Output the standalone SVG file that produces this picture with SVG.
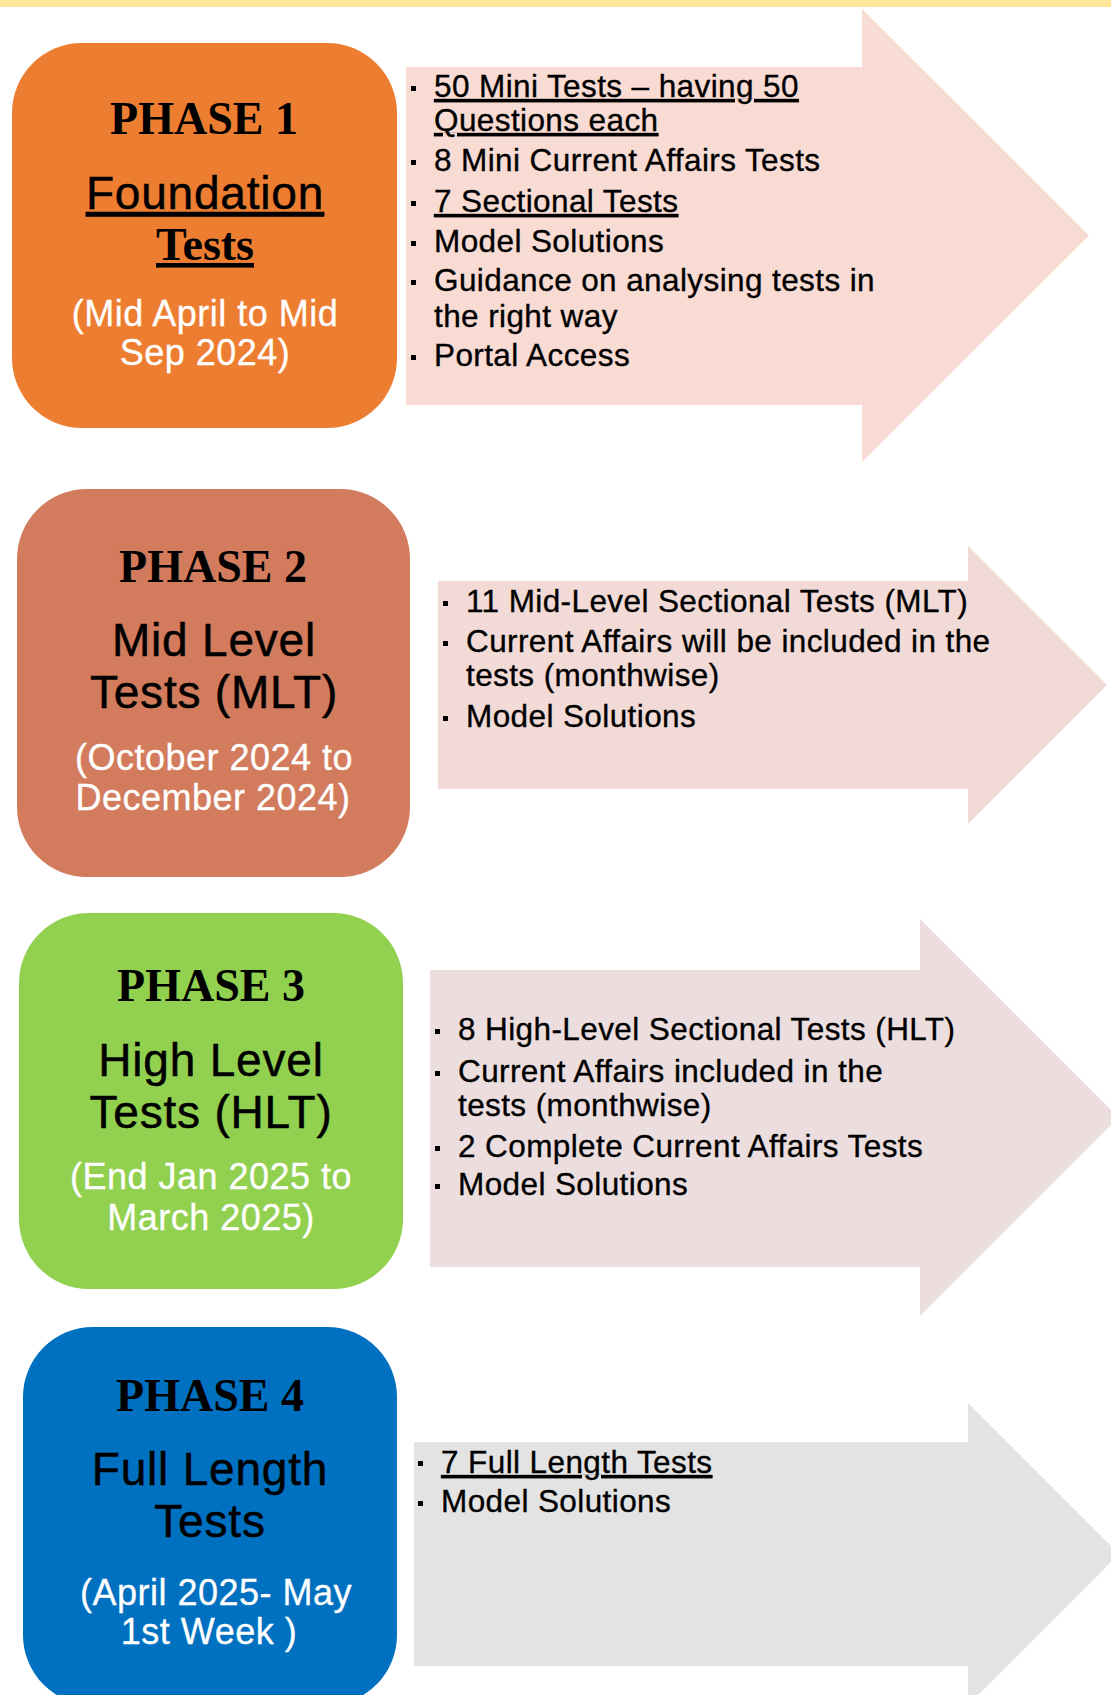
<svg xmlns="http://www.w3.org/2000/svg" width="1111" height="1695" viewBox="0 0 1111 1695">
<style>
.phase{font-family:"Liberation Serif","Times New Roman",serif;font-weight:bold;font-size:46px;fill:#000;text-anchor:middle}
.title{font-family:"Liberation Sans",Arial,sans-serif;font-size:46px;fill:#000;stroke:#000;stroke-width:0.5px;letter-spacing:0.8px;text-anchor:middle}
.date{font-family:"Liberation Sans",Arial,sans-serif;font-size:36px;fill:#fff;stroke:#fff;stroke-width:0.3px;letter-spacing:0.5px;text-anchor:middle}
.item{font-family:"Liberation Sans",Arial,sans-serif;font-size:31.5px;fill:#000;stroke:#000;stroke-width:0.35px;letter-spacing:0.4px}
.ul{text-decoration:underline}
.bullet{fill:#000}
</style>
<rect x="0" y="0" width="1111" height="1695" fill="#fff"/>
<rect x="0" y="0" width="1111" height="7" fill="#FFE699"/>

<g id="connectors"/>

<g id="phase1">
<rect x="12" y="43" width="385" height="385" rx="70" ry="70" fill="#ED7D31"/>
<text class="phase" x="204" y="134">PHASE 1</text>
<text class="title ul" x="205" y="209" font-size="47">Foundation</text>
<text class="phase ul" x="205" y="260" font-size="45">Tests</text>
<text class="date" x="205" y="326">(Mid April to Mid</text>
<text class="date" x="205" y="365">Sep 2024)</text>
</g>

<g id="phase1-details">
<polygon points="406,67 862,67 862,9 1089,235.5 862,462 862,405 406,405" fill="#F8DBD3"/>
<rect class="bullet" x="411" y="86" width="5" height="5"/>
<text class="item ul" x="434" y="97">50 Mini Tests – having 50</text>
<text class="item ul" x="434" y="131">Questions each</text>
<rect class="bullet" x="411" y="160" width="5" height="5"/>
<text class="item" x="434" y="171">8 Mini Current Affairs Tests</text>
<rect class="bullet" x="411" y="201" width="5" height="5"/>
<text class="item ul" x="434" y="212">7 Sectional Tests</text>
<rect class="bullet" x="411" y="241" width="5" height="5"/>
<text class="item" x="434" y="252">Model Solutions</text>
<rect class="bullet" x="411" y="280" width="5" height="5"/>
<text class="item" x="434" y="291">Guidance on analysing tests in</text>
<text class="item" x="434" y="327">the right way</text>
<rect class="bullet" x="411" y="355" width="5" height="5"/>
<text class="item" x="434" y="366">Portal Access</text>
</g>

<g id="phase2">
<rect x="17" y="489" width="393" height="388" rx="70" ry="70" fill="#D27B5D"/>
<text class="phase" x="213" y="582">PHASE 2</text>
<text class="title" x="214" y="656">Mid Level</text>
<text class="title" x="214" y="708">Tests (MLT)</text>
<text class="date" x="214" y="770">(October 2024 to</text>
<text class="date" x="213" y="810">December 2024)</text>
</g>

<g id="phase2-details">
<polygon points="438,581 968,581 968,546 1107,685 968,824 968,789 438,789" fill="#F2DAD6"/>
<rect class="bullet" x="443" y="601" width="5" height="5"/>
<text class="item" x="466" y="612">11 Mid-Level Sectional Tests (MLT)</text>
<rect class="bullet" x="443" y="641" width="5" height="5"/>
<text class="item" x="466" y="652">Current Affairs will be included in the</text>
<text class="item" x="466" y="686">tests (monthwise)</text>
<rect class="bullet" x="443" y="716" width="5" height="5"/>
<text class="item" x="466" y="727">Model Solutions</text>
</g>

<g id="phase3">
<rect x="19" y="913" width="384" height="376" rx="70" ry="70" fill="#92D050"/>
<text class="phase" x="211" y="1001">PHASE 3</text>
<text class="title" x="211" y="1076">High Level</text>
<text class="title" x="211" y="1128">Tests (HLT)</text>
<text class="date" x="211" y="1189">(End Jan 2025 to</text>
<text class="date" x="211" y="1230">March 2025)</text>
</g>

<g id="phase3-details">
<polygon points="430,970 920,970 920,919 1118.5,1117.5 920,1316 920,1267 430,1267" fill="#ECDEDE"/>
<rect class="bullet" x="435" y="1029" width="5" height="5"/>
<text class="item" x="458" y="1040">8 High-Level Sectional Tests (HLT)</text>
<rect class="bullet" x="435" y="1071" width="5" height="5"/>
<text class="item" x="458" y="1082">Current Affairs included in the</text>
<text class="item" x="458" y="1116">tests (monthwise)</text>
<rect class="bullet" x="435" y="1146" width="5" height="5"/>
<text class="item" x="458" y="1157">2 Complete Current Affairs Tests</text>
<rect class="bullet" x="435" y="1184" width="5" height="5"/>
<text class="item" x="458" y="1195">Model Solutions</text>
</g>

<g id="phase4">
<rect x="23" y="1327" width="374" height="378" rx="70" ry="70" fill="#0070C0"/>
<text class="phase" x="210" y="1411">PHASE 4</text>
<text class="title" x="210" y="1485">Full Length</text>
<text class="title" x="210" y="1537">Tests</text>
<text class="date" x="216" y="1605">(April 2025- May</text>
<text class="date" x="209" y="1644">1st Week )</text>
</g>

<g id="phase4-details">
<polygon points="414,1442 968,1442 968,1403 1119,1554 968,1705 968,1666 414,1666" fill="#E3E3E3"/>
<rect class="bullet" x="418" y="1461" width="5" height="5"/>
<text class="item ul" x="441" y="1473">7 Full Length Tests</text>
<rect class="bullet" x="418" y="1501" width="5" height="5"/>
<text class="item" x="441" y="1512">Model Solutions</text>
</g>
</svg>
